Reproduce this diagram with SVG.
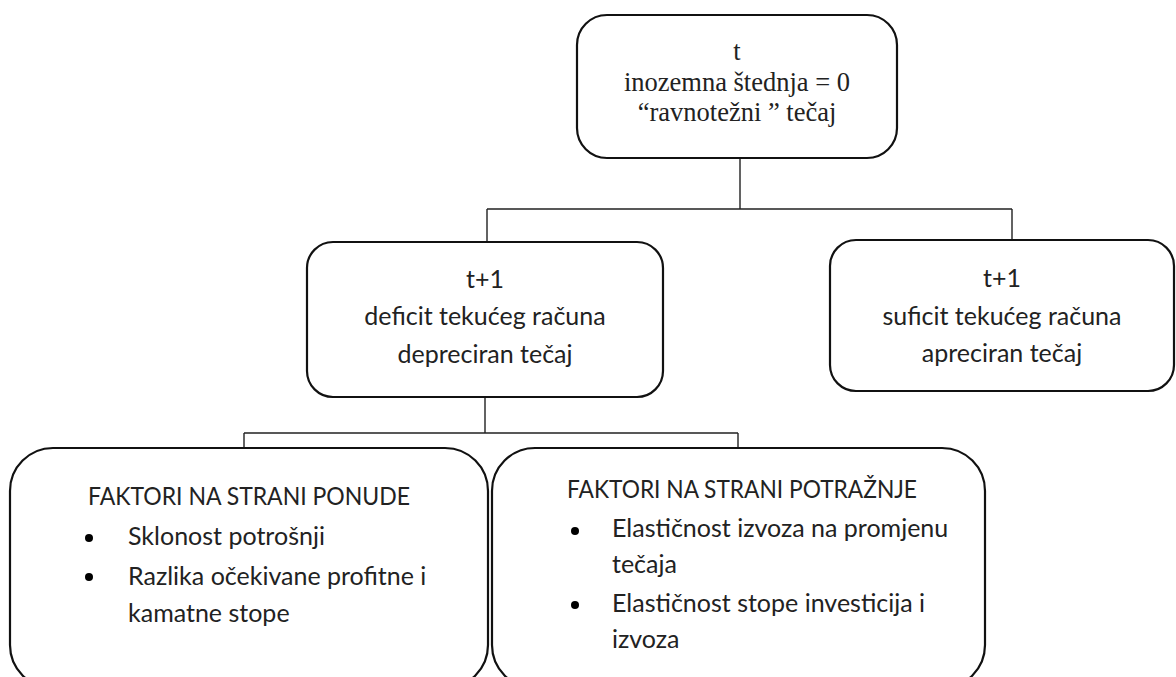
<svg xmlns="http://www.w3.org/2000/svg" width="1176" height="677" viewBox="0 0 1176 677">
<style>
.box{fill:#fff;stroke:#111;stroke-width:2.2}
.con{fill:none;stroke:#222;stroke-width:1.4}
.serif{font-family:"Liberation Serif","Times New Roman",serif;font-size:26.5px;fill:#222;text-anchor:middle}
.sans{font-family:Lato,"Liberation Sans",sans-serif;font-size:25px;fill:#222}
.mid{text-anchor:middle}
.dot{fill:#000}
</style>
<rect width="1176" height="677" fill="#fff"/>
<g id="connectors">
<path class="con" d="M740 158 V209 M487 209 H1012 M487 209 V242 M1012 209 V240"/>
<path class="con" d="M485 396 V433 M244 433 H738 M244 433 V448 M738 433 V449"/>
</g>
<g id="node-t">
<rect class="box" x="577" y="15" width="320" height="143" rx="30"/>
<text class="serif" x="737" y="60">t</text>
<text class="serif" x="737" y="91">inozemna štednja = 0</text>
<text class="serif" x="737" y="121">“ravnotežni ” tečaj</text>
</g>
<g id="node-deficit">
<rect class="box" x="307" y="242" width="356" height="155" rx="26"/>
<text class="sans mid" x="485" y="288">t+1</text>
<text class="sans mid" x="485" y="325">deficit tekućeg računa</text>
<text class="sans mid" x="485" y="363">depreciran tečaj</text>
</g>
<g id="node-suficit">
<rect class="box" x="830" y="240" width="344" height="151" rx="26"/>
<text class="sans mid" x="1002" y="287">t+1</text>
<text class="sans mid" x="1002" y="325">suficit tekućeg računa</text>
<text class="sans mid" x="1002" y="362">apreciran tečaj</text>
</g>
<g id="node-ponuda">
<rect class="box" x="10" y="448" width="478" height="240" rx="43"/>
<text class="sans" x="88" y="505" textLength="322" lengthAdjust="spacingAndGlyphs">FAKTORI NA STRANI PONUDE</text>
<circle class="dot" cx="89" cy="538" r="4"/>
<text class="sans" x="128" y="545">Sklonost potrošnji</text>
<circle class="dot" cx="89" cy="577" r="4"/>
<text class="sans" x="128" y="585">Razlika očekivane profitne i</text>
<text class="sans" x="128" y="622">kamatne stope</text>
</g>
<g id="node-potraznja">
<rect class="box" x="492" y="448" width="493" height="240" rx="43"/>
<text class="sans" x="567" y="498" textLength="350" lengthAdjust="spacingAndGlyphs">FAKTORI NA STRANI POTRAŽNJE</text>
<circle class="dot" cx="575" cy="531" r="4"/>
<text class="sans" x="612" y="537">Elastičnost izvoza na promjenu</text>
<text class="sans" x="612" y="573">tečaja</text>
<circle class="dot" cx="575" cy="605" r="4"/>
<text class="sans" x="612" y="612">Elastičnost stope investicija i</text>
<text class="sans" x="612" y="648">izvoza</text>
</g>
</svg>
